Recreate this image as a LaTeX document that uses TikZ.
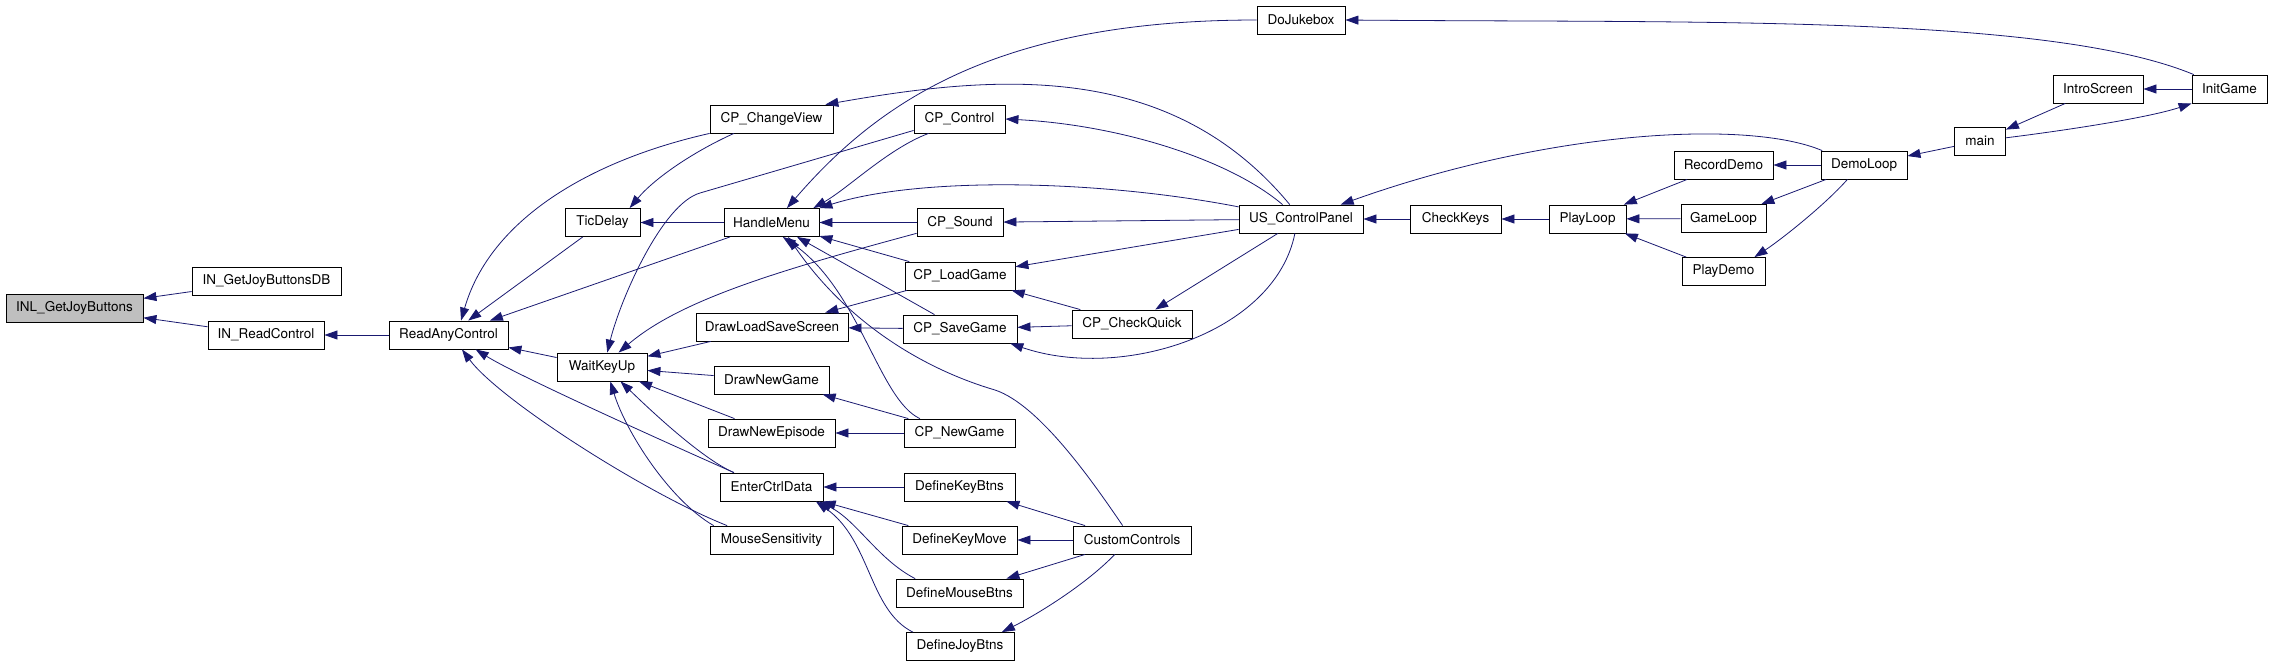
\documentclass[tikz,border=0pt]{standalone}
\usepackage{fontspec}
\setmainfont{TeX Gyre Heros}
\usetikzlibrary{arrows.meta}
\definecolor{edgeblue}{RGB}{25,25,112}
\definecolor{boxgray}{RGB}{191,191,191}
\begin{document}
\begin{tikzpicture}[x=1pt, y=-1pt,
		fn/.style={draw=black, line width=0.85pt, fill=white, minimum height=28pt, inner sep=0pt, font=\fontsize{13.5}{16}\selectfont},
		cg/.style={-{Triangle[length=13pt,width=9pt]}, color=edgeblue, line width=0.8pt}]
		\useasboundingbox (0,0) rectangle (2272,667);
		
		\node[fn, fill=boxgray, minimum width=137pt] (getjoy) at (74.5,308) {INL\_GetJoyButtons};
		\node[fn, minimum width=149pt] (getjoydb) at (266.5,281) {IN\_GetJoyButtonsDB};
		\node[fn, minimum width=116pt] (readctrl) at (266,335) {IN\_ReadControl};
		\node[fn, minimum width=119pt] (readany) at (448.5,335) {ReadAnyControl};
		\node[fn, minimum width=75pt] (ticdelay) at (602.5,222.5) {TicDelay};
		\node[fn, minimum width=90pt] (waitkey) at (602,367) {WaitKeyUp};
		\node[fn, minimum width=123pt] (changeview) at (771.5,119) {CP\_ChangeView};
		\node[fn, minimum width=95pt] (handlemenu) at (771.5,222.5) {HandleMenu};
		\node[fn, minimum width=152pt] (loadsave) at (772,327) {DrawLoadSaveScreen};
		\node[fn, minimum width=115pt] (newgamescr) at (771.5,380) {DrawNewGame};
		\node[fn, minimum width=127pt] (newepisode) at (771.5,433) {DrawNewEpisode};
		\node[fn, minimum width=103pt] (enterctrl) at (771.5,487) {EnterCtrlData};
		\node[fn, minimum width=123pt] (mousesens) at (771.5,540) {MouseSensitivity};
		\node[fn, minimum width=91pt] (cpcontrol) at (959.5,119) {CP\_Control};
		\node[fn, minimum width=86pt] (cpsound) at (960,222.5) {CP\_Sound};
		\node[fn, minimum width=110pt] (cpload) at (960,276) {CP\_LoadGame};
		\node[fn, minimum width=114pt] (cpsave) at (960,329) {CP\_SaveGame};
		\node[fn, minimum width=111pt] (cpnewgame) at (959.5,433) {CP\_NewGame};
		\node[fn, minimum width=111pt] (defkeybtns) at (959.5,487) {DefineKeyBtns};
		\node[fn, minimum width=115pt] (defkeymove) at (959.5,540) {DefineKeyMove};
		\node[fn, minimum width=127pt] (defmouse) at (959.5,593) {DefineMouseBtns};
		\node[fn, minimum width=108pt] (defjoy) at (960,646.5) {DefineJoyBtns};
		\node[fn, minimum width=88pt] (jukebox) at (1301,20) {DoJukebox};
		\node[fn, minimum width=124pt] (ctrlpanel) at (1301,219) {US\_ControlPanel};
		\node[fn, minimum width=120pt] (checkquick) at (1132,324) {CP\_CheckQuick};
		\node[fn, minimum width=118pt] (customctrl) at (1132,540) {CustomControls};
		\node[fn, minimum width=91pt] (checkkeys) at (1455.5,219) {CheckKeys};
		\node[fn, minimum width=77pt] (playloop) at (1587.5,219) {PlayLoop};
		\node[fn, minimum width=99pt] (recdemo) at (1723.5,165) {RecordDemo};
		\node[fn, minimum width=85pt] (gameloop) at (1723.5,218.5) {GameLoop};
		\node[fn, minimum width=83pt] (playdemo) at (1723.5,271.5) {PlayDemo};
		\node[fn, minimum width=86pt] (demoloop) at (1864,165) {DemoLoop};
		\node[fn, minimum width=51pt] (main) at (1980,141) {main};
		\node[fn, minimum width=90pt] (intro) at (2098,89) {IntroScreen};
		\node[fn, minimum width=75pt] (initgame) at (2229.5,89) {InitGame};
		
		% left part
		\draw[cg] (getjoydb) -- (getjoy);
		\draw[cg] (readctrl) -- (getjoy);
		\draw[cg] (readany) -- (readctrl);
		\draw[cg] (changeview.south west) .. controls +(-120,27) and +(29,-101) .. (readany.49);
		\draw[cg] (ticdelay) -- (readany);
		\draw[cg] (handlemenu) -- (readany);
		\draw[cg] (waitkey) -- (readany);
		\draw[cg] (enterctrl.159) .. controls +(-90,-40) and +(40,25) .. (readany.-28);
		\draw[cg] (mousesens.162) .. controls +(-79,-31) and +(38,51) .. (readany.-47);
		\draw[cg] (changeview.201) .. controls +(-40,18) and +(25,-30) .. (ticdelay.28);
		\draw[cg] (handlemenu) -- (ticdelay);
		
		% HandleMenu and WaitKeyUp
		\draw[cg] (jukebox.west) .. controls +(-257,0) and +(93,-108) .. (handlemenu.43);
		\draw[cg] (cpcontrol.205) .. controls +(-40,15) and +(35,-20) .. (handlemenu.19);
		\draw[cg] (ctrlpanel.169) .. controls +(-139,-27) and +(101,-32) .. (handlemenu.north east);
		\draw[cg] (cpsound) -- (handlemenu);
		\draw[cg] (cpload) -- (handlemenu);
		\draw[cg] (cpsave) -- (handlemenu);
		\draw[cg] (cpnewgame.160) .. controls +(-41,-19) and +(77,53) .. (handlemenu.-52);
		\draw[cg] (customctrl.123) .. controls +(-28,-41) and +(45,15) .. (995,390) .. controls +(-75,-22) and +(57,83) .. (handlemenu.-41);
		\draw[cg] (cpcontrol.194) -- (700,193) .. controls +(-38,11) and +(13,-53) .. (waitkey.70);
		\draw[cg] (cpsound.194) .. controls +(-137,37) and +(62,-53) .. (waitkey.41);
		\draw[cg] (loadsave) -- (waitkey);
		\draw[cg] (newgamescr) -- (waitkey);
		\draw[cg] (newepisode) -- (waitkey);
		\draw[cg] (enterctrl.159) .. controls +(-35,-15) and +(20,19) .. (waitkey.-38);
		\draw[cg] (mousesens.166) .. controls +(-45,-26) and +(15,49) .. (waitkey.-60);
		
		\draw[cg] (cpload) -- (loadsave);
		\draw[cg] (cpsave) -- (loadsave);
		\draw[cg] (cpnewgame) -- (newgamescr);
		\draw[cg] (cpnewgame) -- (newepisode);
		\draw[cg] (defkeybtns) -- (enterctrl);
		\draw[cg] (defkeymove) -- (enterctrl);
		\draw[cg] (defmouse.162) .. controls +(-37,-19) and +(38,19) .. (enterctrl.-17);
		\draw[cg] (defjoy.163) .. controls +(-44,-22) and +(55,39) .. (enterctrl.-18);
		\draw[cg] (customctrl) -- (defkeybtns);
		\draw[cg] (customctrl) -- (defkeymove);
		\draw[cg] (customctrl) -- (defmouse);
		\draw[cg] (customctrl.220) .. controls +(-30,31) and +(34,-17) .. (defjoy.19);
		
		% control panel
		\draw[cg] (ctrlpanel.128) .. controls +(-120,-145) and +(170,-30) .. (changeview.15);
		\draw[cg] (ctrlpanel.142) .. controls +(-53,-45) and +(115,6) .. (cpcontrol.east);
		\draw[cg] (ctrlpanel) -- (cpsound);
		\draw[cg] (ctrlpanel) -- (cpload);
		\draw[cg] (ctrlpanel.247) .. controls +(-20,100) and +(111,38) .. (cpsave.-16);
		\draw[cg] (ctrlpanel) -- (checkquick);
		\draw[cg] (checkquick) -- (cpload);
		\draw[cg] (checkquick) -- (cpsave);
		\draw[cg] (checkkeys) -- (ctrlpanel);
		\draw[cg] (demoloop.161) .. controls +(-73,-31) and +(210,-75) .. (ctrlpanel.20);
		
		% right part
		\draw[cg] (playloop) -- (checkkeys);
		\draw[cg] (recdemo) -- (playloop);
		\draw[cg] (gameloop) -- (playloop);
		\draw[cg] (playdemo) -- (playloop);
		\draw[cg] (demoloop) -- (recdemo);
		\draw[cg] (demoloop) -- (gameloop);
		\draw[cg] (demoloop.221) .. controls +(-23,26) and +(26,-17) .. (playdemo.25);
		\draw[cg] (main) -- (demoloop);
		\draw[cg] (intro) -- (main);
		\draw[cg] (main.7) .. controls +(64,-8) and +(-42,14) .. (initgame.south west);
		\draw[cg] (initgame) -- (intro);
		\draw[cg] (initgame.158) .. controls +(-145,-60) and +(355,3) .. (jukebox.east);
	\end{tikzpicture}
\end{document}
